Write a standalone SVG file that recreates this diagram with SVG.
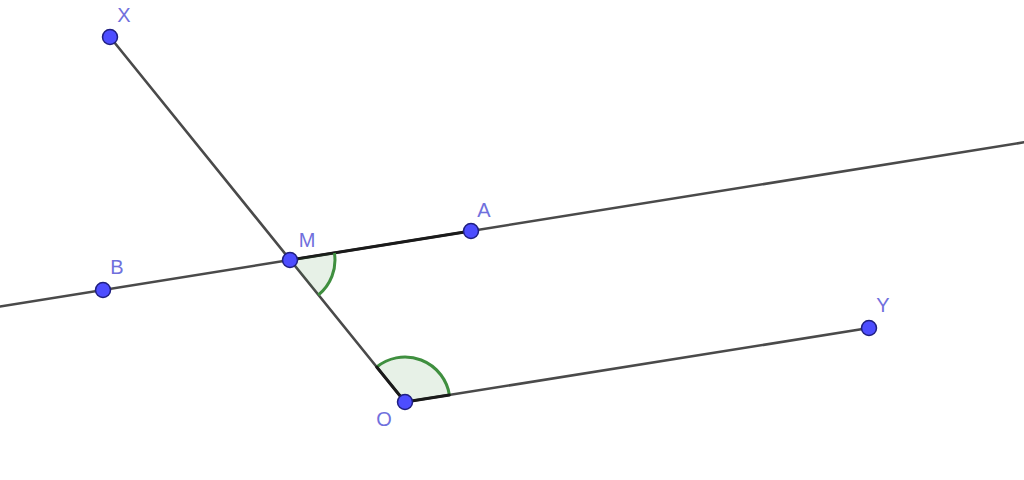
<svg xmlns="http://www.w3.org/2000/svg" width="1024" height="480" viewBox="0 0 1024 480">
<style>
.ln{stroke:#4a4a4a;stroke-width:2.6;fill:none;stroke-linecap:round}
.dk{stroke:#1a1a1a;stroke-width:3;fill:none;stroke-linecap:round}
.ang{fill:#3c8c3c;fill-opacity:0.12;stroke:none}
.arc{fill:none;stroke:#3f8f3f;stroke-width:3}
.pt{fill:#4d4dff;stroke:#1f1f80;stroke-width:1.5}
.lb{font-family:"Liberation Sans",Arial,sans-serif;font-size:20px;fill:#7070dd;text-anchor:middle}
</style>
<rect width="1024" height="480" fill="#ffffff"/>
<g id="connectors">
<line class="ln" x1="0" y1="306.5" x2="1024" y2="142.3"/>
<line class="ln" x1="110" y1="37" x2="405" y2="402"/>
<line class="ln" x1="405" y1="402" x2="869" y2="328"/>
<line class="dk" x1="290" y1="260" x2="471" y2="231"/>
</g>
<g id="angle-M">
<path class="ang" d="M290,260 L334.4,252.9 A45,45 0 0 1 318.3,295 Z"/>
<path class="arc" d="M334.4,252.9 A45,45 0 0 1 318.3,295"/>
</g>
<g id="angle-O">
<path class="ang" d="M405,402 L449.4,394.9 A45,45 0 0 0 376.7,367 Z"/>
<path class="arc" d="M449.4,394.9 A45,45 0 0 0 376.7,367"/>
<line class="dk" x1="405" y1="402" x2="449.4" y2="394.9"/>
<line class="dk" x1="405" y1="402" x2="376.7" y2="367"/>
</g>
<g id="X"><circle class="pt" cx="110" cy="37" r="7.5"/><text class="lb" x="124" y="22">X</text></g>
<g id="M"><circle class="pt" cx="290" cy="260" r="7.5"/><text class="lb" x="307" y="247">M</text></g>
<g id="A"><circle class="pt" cx="471" cy="231" r="7.5"/><text class="lb" x="484" y="217">A</text></g>
<g id="B"><circle class="pt" cx="103" cy="290" r="7.5"/><text class="lb" x="117" y="274">B</text></g>
<g id="O"><circle class="pt" cx="405" cy="402" r="7.5"/><text class="lb" x="384" y="426">O</text></g>
<g id="Y"><circle class="pt" cx="869" cy="328" r="7.5"/><text class="lb" x="883" y="312">Y</text></g>
</svg>
